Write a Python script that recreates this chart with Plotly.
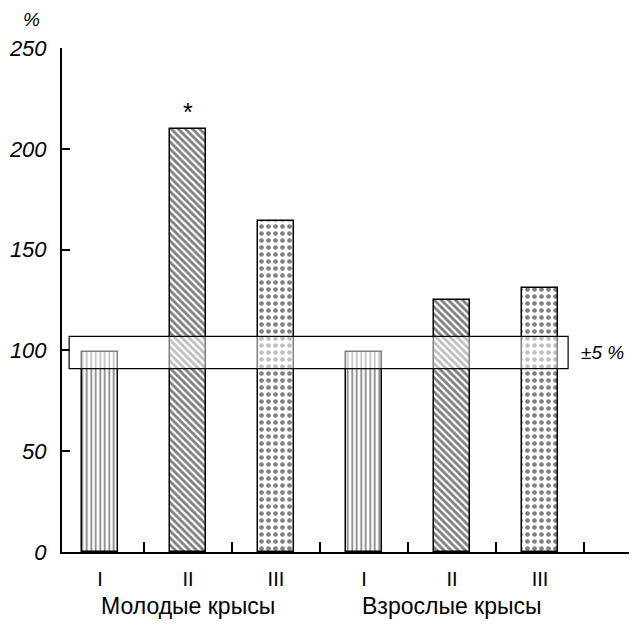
import plotly.graph_objects as go

# ---- data ----
groups = ["Молодые крысы", "Взрослые крысы"]
tick_labels = ["I", "II", "III", "I", "II", "III"]
values = [99, 210, 164, 99, 125, 131]
patterns = ["|", "\\", ".", "|", "\\", "."]
band_low, band_high = 91, 107
band_label = "±5 %"
star_index = 1
y_ticks = [0, 50, 100, 150, 200, 250]

positions = list(range(len(values)))
font_family = "Liberation Sans, Arial, sans-serif"

pattern_sizes = {"|": 4.5, "\\": 5, ".": 7}
pattern_solid = {"|": 0.38, "\\": 0.55, ".": 0.36}

fig = go.Figure()
fig.add_trace(go.Bar(
    x=positions, y=values, width=0.41,
    marker=dict(
        color="white",
        line=dict(color="black", width=1.5),
        pattern=dict(
            shape=patterns,
            fgcolor="black", bgcolor="white",
            size=[pattern_sizes[p] for p in patterns],
            solidity=[pattern_solid[p] for p in patterns],
            fillmode="overlay",
        ),
    ),
    showlegend=False, hoverinfo="skip",
))

# ±5 % band
fig.add_shape(type="rect", xref="x", yref="y",
              x0=positions[0] - 0.35, x1=positions[-1] + 0.32,
              y0=band_low, y1=band_high,
              fillcolor="rgba(255,255,255,0.5)",
              line=dict(color="black", width=1.2), layer="above")
fig.add_annotation(x=positions[-1] + 0.44, y=(band_low + band_high) / 2,
                   text=band_label, showarrow=False, xanchor="left",
                   font=dict(family=font_family, size=19, color="black", style="italic"))

# star
fig.add_annotation(x=positions[star_index], y=values[star_index], text="*",
                   showarrow=False, yanchor="bottom", yshift=1,
                   font=dict(family=font_family, size=25, color="black"))

# group labels
for gi, g in enumerate(groups):
    fig.add_annotation(x=positions[gi * 3 + 1], y=-0.108, yref="paper", text=g,
                       showarrow=False, yanchor="middle",
                       font=dict(family=font_family, size=23, color="black"))

# % label
fig.add_annotation(x=-0.053, y=1.057, xref="paper", yref="paper", text="%",
                   showarrow=False, xanchor="center", yanchor="middle",
                   font=dict(family=font_family, size=19, color="black", style="italic"))

fig.update_layout(
    width=637, height=628,
    margin=dict(l=54, r=7, t=40, b=84),
    plot_bgcolor="white", paper_bgcolor="white",
    bargap=0,
    xaxis=dict(
        range=[-0.431, 6.114], automargin=False,
        tickvals=positions, ticktext=tick_labels,
        ticks="", showgrid=False, zeroline=False,
        showline=True, linecolor="black", linewidth=2,
        tickfont=dict(family=font_family, size=20, color="black"),
        ticklabelstandoff=8,
        minor=dict(tick0=0.5, dtick=1, ticks="inside", ticklen=10,
                   tickwidth=2, tickcolor="black", showgrid=False),
    ),
    yaxis=dict(
        range=[0, 250], automargin=False, tickvals=y_ticks,
        ticks="inside", ticklen=8, tickwidth=2, tickcolor="black",
        showgrid=False, zeroline=False,
        showline=True, linecolor="black", linewidth=2,
        ticklabelstandoff=9,
        tickfont=dict(family=font_family, size=22, color="black", style="italic"),
    ),
)

fig.write_html("out.html")
